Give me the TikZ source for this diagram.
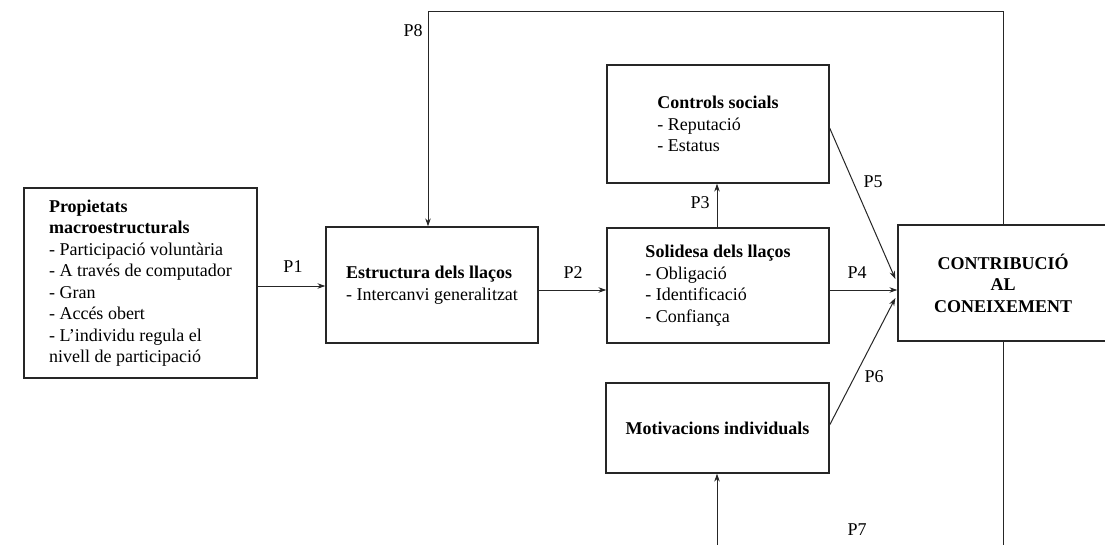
\documentclass[tikz,border=0pt]{standalone}
\usepackage{fontspec}
\setmainfont{Liberation Serif}
\usetikzlibrary{arrows.meta,calc}

\tikzset{
  box/.style={draw=black!85, line width=1.3pt, rectangle, inner sep=0pt,
              align=left, font=\fontsize{18}{21.5}\selectfont},
  arr/.style={draw=black!85, line width=1pt, -{Stealth[length=8pt,width=5.5pt]}},
  link/.style={draw=black!85, line width=1pt},
  plabel/.style={font=\fontsize{18}{21}\selectfont, inner sep=0pt}
}

\begin{document}
\begin{tikzpicture}[x=1pt,y=-1pt]
  \clip (0,0) rectangle (1105,545);
  \fill[white] (0,0) rectangle (1105,545);

  % boxes
  \node[box, minimum width=233pt, minimum height=190pt] (prop) at (140.5,283)
    {\fontsize{18}{20.6}\selectfont\textbf{Propietats}\\
     \textbf{macroestructurals}\\
     - Participació voluntària\\
     - A través de computador\\
     - Gran\\
     - Accés obert\\
     - L’individu regula el\\
     nivell de participació};

  \node[box, minimum width=212pt, minimum height=116pt] (estr) at (432,285)
    {\fontsize{18}{23}\selectfont\textbf{Estructura dels llaços}\\
     - Intercanvi generalitzat};

  \node[box, minimum width=222pt, minimum height=118pt] (ctrl) at (718,124)
    {\fontsize{18}{22.5}\selectfont\textbf{Controls socials}\\
     - Reputació\\
     - Estatus};

  \node[box, minimum width=222pt, minimum height=115pt] (sol) at (718,285.5)
    {\fontsize{18}{21.7}\selectfont\textbf{Solidesa dels llaços}\\
     - Obligació\\
     - Identificació\\
     - Confiança};

  \node[box, minimum width=223pt, minimum height=90pt] (motiv) at (717.5,428)
    {\textbf{Motivacions individuals}};

  \node[box, align=center, minimum width=210pt, minimum height=116pt] (contrib) at (1003,283)
    {\textbf{CONTRIBUCIÓ}\\ \textbf{AL}\\ \textbf{CONEIXEMENT}};

  % free ends at the lower edge
  \coordinate (p7start) at (717,545);
  \coordinate (downend) at (1003,545);
  \coordinate (loopR) at (1003,12);
  \coordinate (loopL) at (428,12);

  % connectors
  \draw[arr] (prop.east |- 0,286) -- (estr.west |- 0,286);
  \draw[arr] (estr.east |- 0,290) -- (sol.west |- 0,290);
  \draw[arr] (sol.north -| 717,0) -- (ctrl.south -| 717,0);
  \draw[arr] (sol.east |- 0,290) -- (contrib.west |- 0,290);
  \draw[arr] (ctrl.east |- 0,128) -- ($(contrib.west |- 0,279)+(-2,0)$);
  \draw[arr] (motiv.east |- 0,425) -- ($(contrib.west |- 0,298)+(-2,0)$);
  \draw[arr] (p7start) -- (motiv.south -| 717,0);
  \draw[link] (contrib.south) -- (downend);
  \draw[arr] (contrib.north) -- (loopR) -- (loopL) -- (estr.north -| loopL);

  % labels
  \node[plabel] (l1) at (293,267) {P1};
  \node[plabel] (l2) at (573,273) {P2};
  \node[plabel] (l3) at (700,203) {P3};
  \node[plabel] (l4) at (857,273) {P4};
  \node[plabel] (l5) at (873,182) {P5};
  \node[plabel] (l6) at (874,377) {P6};
  \node[plabel] (l7) at (857,530) {P7};
  \node[plabel] (l8) at (413,31) {P8};
\end{tikzpicture}
\end{document}
